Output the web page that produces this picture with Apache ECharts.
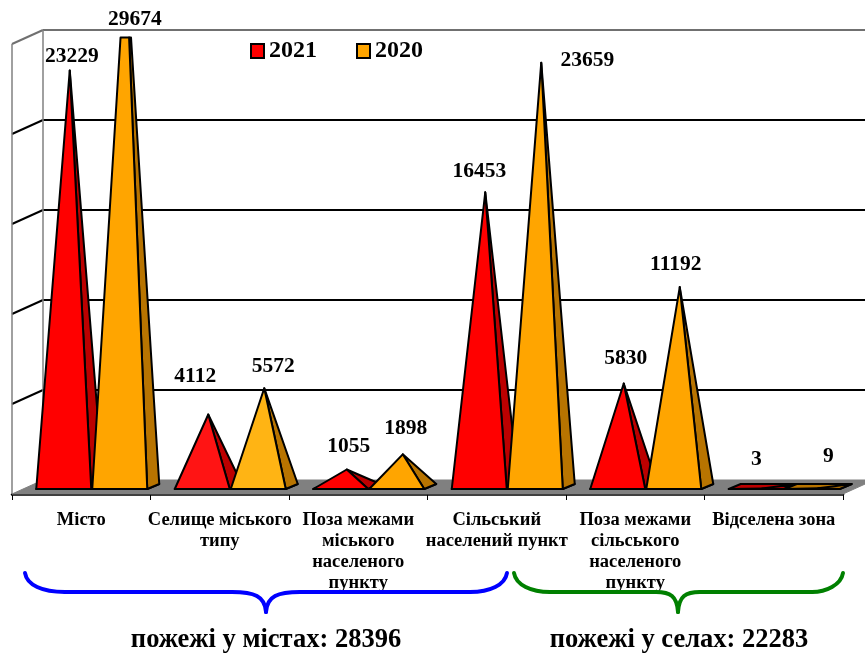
<!DOCTYPE html>
<html>
<head>
<meta charset="utf-8">
<style>html,body{margin:0;padding:0;background:#fff}#c{width:865px;height:653px}</style>
<script src="https://cdn.jsdelivr.net/npm/echarts@6/dist/echarts.min.js"></script>
</head>
<body>
<div id="c"></div>
<script>
var categories = ['Місто','Селище міського\nтипу','Поза межами\nміського\nнаселеного\nпункту','Сільський\nнаселений пункт','Поза межами\nсільського\nнаселеного\nпункту','Відселена зона'];
var values2021 = [23229, 4112, 1055, 16453, 5830, 3];
var values2020 = [29674, 5572, 1898, 23659, 11192, 9];
var axisTicks = [0, 5000, 10000, 15000, 20000, 25000];
var yMax = 25000;
// label nudges from each apex (layout only, px)
var labelNudge2021 = [[2,-14],[-13,-38],[2,-23],[-6,-21],[2,-25],[-6,-29]];
var labelNudge2020 = [[9,-18],[9,-22],[3,-26],[46,-2],[-4,-23],[10,-32]];
var textFont = '"Liberation Serif","Times New Roman",serif';

var DEPTH_X = 31, DEPTH_Y = 14;      // wall depth
var BAR_W = 55, BAR_DX = 12, BAR_DY = 5, BASE_INSET = 5;

function pyramid(values, nudges, offsetX, front, side, tint) {
  return function (params, api) {
    var i = api.value(0), v = api.value(1);
    var zero = api.coord([i, 0]), apexRaw = api.coord([i, v]), top = api.coord([i, yMax]);
    var shiftY = -BASE_INSET - 0.5;
    var by = zero[1] - BASE_INSET, xl = zero[0] + offsetX, xr = xl + BAR_W;
    var ax = xl + BAR_W / 2 + BAR_DX / 2, ay = apexRaw[1] + shiftY, clipY = top[1] + shiftY - 1;
    function at(p) { // point on edge p -> apex, limited to the axis maximum
      if (ay >= clipY) return [ax, ay];
      var t = (p[1] - clipY) / (p[1] - ay);
      return [p[0] + (ax - p[0]) * t, clipY];
    }
    var fl = [xl, by], fr = [xr, by], br = [xr + BAR_DX, by - BAR_DY], bl = [xl + BAR_DX, by - BAR_DY];
    var stroke = {stroke: '#000', lineWidth: 2, lineJoin: 'round'};
    var col = tint[i] || front, colS = side;
    function poly(pts, fill) {
      return {type: 'polygon', shape: {points: pts}, style: Object.assign({fill: fill}, stroke)};
    }
    var kids = [poly([fl, fr, br, bl], colS)];
    var tf1 = at(fl), tf2 = at(fr), ts = at(br);
    kids.push(poly(ay >= clipY ? [fr, br, ts] : [fr, br, ts, tf2], colS));
    kids.push(poly(ay >= clipY ? [fl, fr, tf1] : [fl, fr, tf2, tf1], col));
    var n = nudges[i];
    kids.push({type: 'text', z2: 50, style: {
      text: String(v), x: ax + n[0], y: Math.max(ay, clipY) + n[1],
      fill: '#000', align: 'center', verticalAlign: 'middle',
      font: 'bold 21.5px ' + textFont
    }});
    return {type: 'group', children: kids};
  };
}

function braceSegments(color, x0, xL, xC, xR, x1, yEnd, yFlat, yTip, half) {
  var st = {fill: 'none', stroke: color, lineWidth: 4, lineCap: 'round'};
  function bez(a, b, c, d, e, f, g, h) {
    return {type: 'bezierCurve', z: 20, silent: true, shape: {x1: a, y1: b, cpx1: c, cpy1: d, cpx2: e, cpy2: f, x2: g, y2: h}, style: st};
  }
  function seg(a, b) {
    return {type: 'line', z: 20, silent: true, shape: {x1: a, y1: yFlat, x2: b, y2: yFlat}, style: st};
  }
  return [
    bez(x0, yEnd, x0 + 2, yEnd + 12, x0 + 17, yFlat, xL, yFlat),
    seg(xL, xC - half),
    bez(xC - half, yFlat, xC - half * 0.35, yFlat, xC - 1, yFlat + 4, xC, yTip),
    bez(xC + half, yFlat, xC + half * 0.35, yFlat, xC + 1, yFlat + 4, xC, yTip),
    seg(xC + half, xR),
    bez(x1, yEnd, x1 - 2, yEnd + 12, x1 - 17, yFlat, xR, yFlat)
  ];
}

var option = {
  animation: false,
  backgroundColor: '#fff',
  grid: {left: 12, right: 22, top: 44, bottom: 159, containLabel: false},
  legend: {
    data: ['2021', '2020'], left: 245, top: 34, itemGap: 39, itemWidth: 13, itemHeight: 14, icon: 'rect',
    itemStyle: {borderColor: '#000', borderWidth: 2},
    textStyle: {fontFamily: textFont, fontWeight: 'bold', fontSize: 24, color: '#000'},
    selectedMode: false
  },
  xAxis: {
    type: 'category', data: categories, boundaryGap: true,
    axisLine: {lineStyle: {color: '#000', width: 2.5}},
    axisTick: {show: true, alignWithLabel: false, length: 6, lineStyle: {color: '#000', width: 1}},
    axisLabel: {interval: 0, fontFamily: textFont, fontWeight: 'bold', fontSize: 18.5, color: '#000', lineHeight: 21, margin: 16}
  },
  yAxis: {
    type: 'value', min: 0, max: yMax, interval: 5000,
    axisLine: {show: false}, axisTick: {show: false}, axisLabel: {show: false}, splitLine: {show: false}
  },
  series: [
    { // walls, gridlines and floor, placed from the value axis
      type: 'custom', silent: true, z: 1, clip: false, coordinateSystem: 'cartesian2d',
      data: axisTicks.map(function (t) { return [0, t]; }),
      encode: {x: 0, y: 1},
      renderItem: function (params, api) {
        var t = api.value(1);
        var p = api.coord([0, t]), z = api.coord([0, 0]), size = api.size([1, 0])[0];
        var x0 = p[0] - size / 2, y = p[1];
        var xEnd = x0 + size * 6;
        var kids = [];
        if (t === 0) {
          kids.push({type: 'polygon', shape: {points: [[x0, y], [x0 + DEPTH_X, y - DEPTH_Y], [xEnd + DEPTH_X, y - DEPTH_Y], [xEnd, y]]}, style: {fill: '#808080', stroke: '#808080', lineWidth: 1}});
        } else {
          var col = t === yMax ? '#707070' : '#000';
          kids.push({type: 'line', shape: {x1: x0 + DEPTH_X, y1: y - DEPTH_Y, x2: xEnd + DEPTH_X, y2: y - DEPTH_Y}, style: {stroke: col, lineWidth: 2}});
          kids.push({type: 'line', shape: {x1: x0, y1: y, x2: x0 + DEPTH_X, y2: y - DEPTH_Y}, style: {stroke: col, lineWidth: 2}});
        }
        if (t === yMax) {
          kids.push({type: 'line', shape: {x1: x0, y1: y, x2: x0, y2: z[1]}, style: {stroke: '#808080', lineWidth: 1.5}});
          kids.push({type: 'line', shape: {x1: x0 + DEPTH_X, y1: y - DEPTH_Y, x2: x0 + DEPTH_X, y2: z[1] - DEPTH_Y}, style: {stroke: '#808080', lineWidth: 1.5}});
        }
        return {type: 'group', children: kids};
      }
    },
    {
      name: '2021', type: 'custom', z: 3, clip: false, itemStyle: {color: '#FF0000'},
      data: values2021.map(function (v, i) { return [i, v]; }), encode: {x: 0, y: 1},
      renderItem: pyramid(values2021, labelNudge2021, -45, '#FF0000', '#BC0000', {1: '#FF1414'})
    },
    {
      name: '2020', type: 'custom', z: 4, clip: false, itemStyle: {color: '#FFA500'},
      data: values2020.map(function (v, i) { return [i, v]; }), encode: {x: 0, y: 1},
      renderItem: pyramid(values2020, labelNudge2020, 11, '#FFA500', '#B87400', {1: '#FFB414'})
    }
  ],
  graphic: {elements: braceSegments('#0000FF', 25, 65, 266, 470, 507, 573, 592, 612, 34)
    .concat(braceSegments('#008000', 514, 550, 678, 812, 843, 573, 592, 612, 22))
    .concat([
    {type: 'text', z: 20, style: {text: 'пожежі у містах: 28396', x: 266, y: 640, align: 'center', verticalAlign: 'middle', fill: '#000', font: 'bold 26.5px ' + textFont}},
    {type: 'text', z: 20, style: {text: 'пожежі у селах: 22283', x: 679, y: 640, align: 'center', verticalAlign: 'middle', fill: '#000', font: 'bold 26.5px ' + textFont}}
  ])}
};
var chart = echarts.init(document.getElementById('c'), null, {renderer: 'canvas'});
chart.setOption(option);
</script>
</body>
</html>
